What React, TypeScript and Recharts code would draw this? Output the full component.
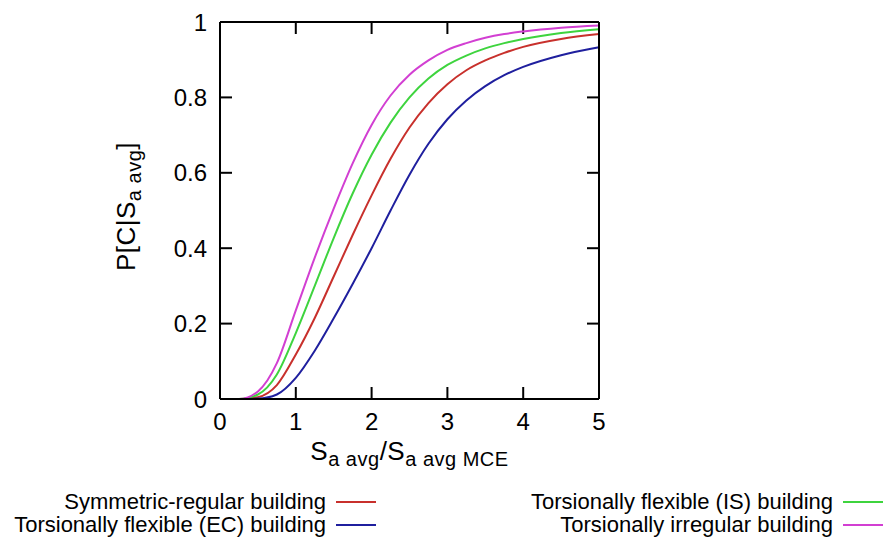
import React from 'react';
import { LineChart, Line, XAxis, YAxis, Label, ReferenceLine } from 'recharts';

const xValues = [0, 0.25, 0.5, 0.75, 1, 1.25, 1.5, 1.75, 2, 2.25, 2.5, 2.75, 3, 3.25, 3.5, 3.75, 4, 4.5, 5];
const symmetricRegular = [0, 0, 0.005, 0.037, 0.118, 0.215, 0.325, 0.435, 0.54, 0.637, 0.72, 0.785, 0.835, 0.872, 0.898, 0.918, 0.934, 0.955, 0.968];
const flexibleIS = [0, 0, 0.012, 0.065, 0.175, 0.3, 0.427, 0.545, 0.648, 0.733, 0.8, 0.85, 0.886, 0.911, 0.93, 0.944, 0.955, 0.971, 0.981];
const flexibleEC = [0, 0, 0.001, 0.012, 0.056, 0.128, 0.214, 0.305, 0.4, 0.5, 0.595, 0.677, 0.742, 0.792, 0.83, 0.859, 0.881, 0.912, 0.933];
const irregular = [0, 0, 0.02, 0.095, 0.235, 0.375, 0.505, 0.625, 0.727, 0.805, 0.86, 0.898, 0.926, 0.944, 0.958, 0.968, 0.975, 0.985, 0.991];

const xTicks = [0, 1, 2, 3, 4, 5];
const yTicks = [0, 0.2, 0.4, 0.6, 0.8, 1];

const series = [
  { key: 'sym', name: 'Symmetric-regular building', color: '#c8302c', values: symmetricRegular },
  { key: 'is', name: 'Torsionally flexible (IS) building', color: '#3ed43e', values: flexibleIS },
  { key: 'ec', name: 'Torsionally flexible (EC) building', color: '#1f1f9e', values: flexibleEC },
  { key: 'irr', name: 'Torsionally irregular building', color: '#d23fd2', values: irregular },
];

const data = xValues.map((x, i) => {
  const row: Record<string, number> = { x };
  series.forEach((s) => { row[s.key] = s.values[i]; });
  return row;
});

const FONT = '"Liberation Sans", Arial, sans-serif';
const X_DOMAIN: [number, number] = [0, 5];
const Y_DOMAIN: [number, number] = [0, 1];
const PLOT_W = 379;
const PLOT_H = 377;
const TICK_PX = 12;
const tickLenX = ((X_DOMAIN[1] - X_DOMAIN[0]) * TICK_PX) / PLOT_W;
const tickLenY = ((Y_DOMAIN[1] - Y_DOMAIN[0]) * TICK_PX) / PLOT_H;
const innerXTicks = xTicks.slice(1, -1);
const innerYTicks = yTicks.slice(1, -1);

const BottomTick = (props: any) => {
  const { x, y, payload } = props;
  return (
    <text x={x} y={y} dy="0.71em" textAnchor="middle" fontFamily={FONT} fontSize={24} fill="#000">
      {String(payload.value)}
    </text>
  );
};

const LeftTick = (props: any) => {
  const { x, y, payload } = props;
  return (
    <text x={x} y={y} dy="0.355em" textAnchor="end" fontFamily={FONT} fontSize={24} fill="#000">
      {String(payload.value)}
    </text>
  );
};

const XLabel = (props: any) => {
  const vb = props.viewBox || { x: 0, y: 0, width: 0, height: 0 };
  const cx = vb.x + vb.width / 2;
  const y = vb.y + 61;
  return (
    <text x={cx} y={y} textAnchor="middle" fontFamily={FONT} fontSize={26} fill="#000" letterSpacing={0.5}>
      <tspan>S</tspan>
      <tspan dy={6} fontSize={20}>a avg</tspan>
      <tspan dy={-6}>/S</tspan>
      <tspan dy={6} fontSize={20}>a avg MCE</tspan>
    </text>
  );
};

const YLabel = (props: any) => {
  const vb = props.viewBox || { x: 0, y: 0, width: 0, height: 0 };
  const x = 135;
  const y = vb.y + vb.height / 2 - 4;
  return (
    <text x={x} y={y} textAnchor="middle" fontFamily={FONT} fontSize={26} fill="#000" letterSpacing={0.5} transform={`rotate(-90, ${x}, ${y})`}>
      <tspan>P[C|S</tspan>
      <tspan dy={6} fontSize={20}>a avg</tspan>
      <tspan dy={-6}>]</tspan>
    </text>
  );
};

const legendLeft = [series[0], series[2]];
const legendRight = [series[1], series[3]];

const LegendColumn = ({ items, textRight }: { items: typeof series; textRight: number }) => (
  <>
    {items.map((s, i) => (
      <div key={s.key}>
        <div
          style={{
            position: 'absolute',
            left: textRight - 500,
            width: 500,
            top: 490 + i * 23,
            height: 24,
            lineHeight: '24px',
            textAlign: 'right',
            fontFamily: FONT,
            fontSize: 22,
            color: '#000',
            whiteSpace: 'nowrap',
          }}
        >
          {s.name}
        </div>
        <div
          style={{
            position: 'absolute',
            left: textRight + 10,
            width: 40,
            top: 501 + i * 23,
            height: 2,
            background: s.color,
          }}
        />
      </div>
    ))}
  </>
);

export default function App() {
  return (
    <div style={{ position: 'absolute', left: 0, top: 0, width: 886, height: 541, background: '#fff', overflow: 'hidden' }}>
      <LineChart width={886} height={541} data={data} margin={{ top: 21, right: 286, bottom: 82, left: 0 }}>
        <XAxis
          xAxisId="bottom"
          dataKey="x"
          type="number"
          domain={X_DOMAIN}
          ticks={xTicks}
          height={60}
          tickSize={0}
          tickMargin={14}
          axisLine={{ stroke: '#000', strokeWidth: 2 }}
          tickLine={false}
          tick={BottomTick}
          interval={0}
        >
          <Label content={XLabel} />
        </XAxis>
        <XAxis
          xAxisId="top"
          orientation="top"
          dataKey="x"
          type="number"
          domain={X_DOMAIN}
          ticks={xTicks}
          height={1}
          axisLine={{ stroke: '#000', strokeWidth: 2 }}
          tickLine={false}
          tick={false}
        />
        <YAxis
          yAxisId="left"
          type="number"
          domain={Y_DOMAIN}
          ticks={yTicks}
          width={220}
          tickSize={0}
          tickMargin={13}
          axisLine={{ stroke: '#000', strokeWidth: 2 }}
          tickLine={false}
          tick={LeftTick}
          interval={0}
        >
          <Label content={YLabel} />
        </YAxis>
        <YAxis
          yAxisId="right"
          orientation="right"
          type="number"
          domain={Y_DOMAIN}
          ticks={yTicks}
          width={1}
          axisLine={{ stroke: '#000', strokeWidth: 2 }}
          tickLine={false}
          tick={false}
        />
        {innerXTicks.map((t) => (
          <ReferenceLine
            key={`xb${t}`}
            xAxisId="bottom"
            yAxisId="left"
            segment={[{ x: t, y: Y_DOMAIN[0] }, { x: t, y: Y_DOMAIN[0] + tickLenY }]}
            stroke="#000"
            strokeWidth={2}
            ifOverflow="visible"
          />
        ))}
        {innerXTicks.map((t) => (
          <ReferenceLine
            key={`xt${t}`}
            xAxisId="bottom"
            yAxisId="left"
            segment={[{ x: t, y: Y_DOMAIN[1] }, { x: t, y: Y_DOMAIN[1] - tickLenY }]}
            stroke="#000"
            strokeWidth={2}
            ifOverflow="visible"
          />
        ))}
        {innerYTicks.map((t) => (
          <ReferenceLine
            key={`yl${t}`}
            xAxisId="bottom"
            yAxisId="left"
            segment={[{ x: X_DOMAIN[0], y: t }, { x: X_DOMAIN[0] + tickLenX, y: t }]}
            stroke="#000"
            strokeWidth={2}
            ifOverflow="visible"
          />
        ))}
        {innerYTicks.map((t) => (
          <ReferenceLine
            key={`yr${t}`}
            xAxisId="bottom"
            yAxisId="left"
            segment={[{ x: X_DOMAIN[1], y: t }, { x: X_DOMAIN[1] - tickLenX, y: t }]}
            stroke="#000"
            strokeWidth={2}
            ifOverflow="visible"
          />
        ))}
        {series.map((s) => (
          <Line
            key={s.key}
            xAxisId="bottom"
            yAxisId="left"
            dataKey={s.key}
            name={s.name}
            type="monotone"
            stroke={s.color}
            strokeWidth={2}
            dot={false}
            activeDot={false}
            isAnimationActive={false}
          />
        ))}
      </LineChart>
      <LegendColumn items={legendLeft} textRight={326} />
      <LegendColumn items={legendRight} textRight={833} />
    </div>
  );
}
